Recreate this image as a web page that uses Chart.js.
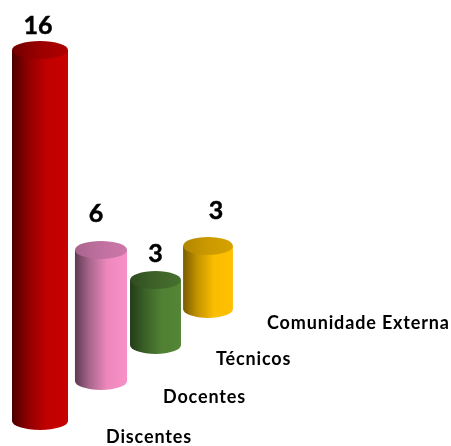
<!DOCTYPE html>
<html><head><meta charset="utf-8">
<style>html,body{margin:0;padding:0;background:#fff}#w{width:451px;height:446px}</style>
<script src="https://cdn.jsdelivr.net/npm/chart.js@4"></script></head>
<body><div id="w"><canvas id="c" width="451" height="446"></canvas></div>
<script>
const categories = ["Discentes", "Docentes", "Técnicos", "Comunidade Externa"];
const values = [16, 6, 3, 3];
const sideColors = [
  ["#4a0000", "#8f0000", "#c00000", "#c80000"],
  ["#5e3a52", "#a8668c", "#ee88bc", "#f790c6"],
  ["#233b18", "#3a6026", "#4f8033", "#548636"],
  ["#7a5c00", "#c29200", "#fbbd00", "#ffc000"]
];
const capColors = [
  ["#700000", "#9c0000", "#b00000"],
  ["#a8648c", "#c070a0", "#cc78a8"],
  ["#2f4c20", "#3e6329", "#47702e"],
  ["#b08600", "#cc9a00", "#d6a200"]
];
// Perspective of each depth row, applied to the bars the library has laid out
const shiftX = [0, 5, 3.5, 0], shiftY = [0, 40, 76, 112];
const sizeX = [1, 0.93, 0.91, 0.89], sizeY = [1, 0.942, 0.934, 0.906];
const numberOffset = [[-2, -24], [-5, -36], [0, -26], [8, -35]];
const labelAnchor = [[106, 437], [163, 397], [216, 359], [267, 323]];
const RY = 9;

const cylinders = {
  id: "cylinders",
  beforeDatasetDraw() { return false; },
  afterDatasetsDraw(chart) {
    const ctx = chart.ctx, bars = chart.getDatasetMeta(0).data;
    for (let i = bars.length - 1; i >= 0; i--) {
      const el = bars[i].getProps(["x", "y", "base", "width"], true);
      const cx = el.x + shiftX[i], rx = el.width * sizeX[i] / 2;
      const bottom = el.base - shiftY[i];
      const top = bottom - (el.base - el.y) * sizeY[i];
      ctx.save();
      ctx.filter = "blur(0.7px)";
      const g = ctx.createLinearGradient(cx - rx, 0, cx + rx, 0);
      [0, 0.28, 0.62, 1].forEach((s, k) => g.addColorStop(s, sideColors[i][k]));
      ctx.fillStyle = g;
      ctx.beginPath();
      ctx.moveTo(cx - rx, top);
      ctx.lineTo(cx - rx, bottom);
      ctx.ellipse(cx, bottom, rx, RY, 0, Math.PI, 0, true);
      ctx.lineTo(cx + rx, top);
      ctx.closePath();
      ctx.fill();
      const h = ctx.createLinearGradient(cx - rx, 0, cx + rx, 0);
      [0, 0.5, 1].forEach((s, k) => h.addColorStop(s, capColors[i][k]));
      ctx.fillStyle = h;
      ctx.beginPath();
      ctx.ellipse(cx, top, rx, RY, 0, 0, Math.PI * 2);
      ctx.fill();
      ctx.restore();

      ctx.save();
      ctx.fillStyle = "#000";
      ctx.strokeStyle = "#000";
      ctx.lineWidth = 0.5;
      ctx.textBaseline = "middle";
      ctx.textAlign = "center";
      ctx.font = "bold 25px Lato";
      const nx = cx + numberOffset[i][0], ny = top + numberOffset[i][1];
      ctx.fillText(String(values[i]), nx, ny);
      ctx.strokeText(String(values[i]), nx, ny);
      ctx.textAlign = "left";
      ctx.font = "bold 18px Lato";
      ctx.letterSpacing = "0.85px";
      ctx.fillText(categories[i], labelAnchor[i][0], labelAnchor[i][1]);
      ctx.restore();
    }
  }
};

new Chart(document.getElementById("c"), {
  type: "bar",
  data: { labels: categories, datasets: [{ data: values, backgroundColor: "#c00000",
    barPercentage: 1, categoryPercentage: 1 }] },
  options: {
    responsive: false, animation: false,
    layout: { padding: { left: 12, right: 215, top: 50, bottom: 25 } },
    plugins: { legend: { display: false }, tooltip: { enabled: false } },
    scales: {
      x: { display: false },
      y: { display: false, min: 0, max: 16 }
    }
  },
  plugins: [cylinders]
});
</script></body></html>
